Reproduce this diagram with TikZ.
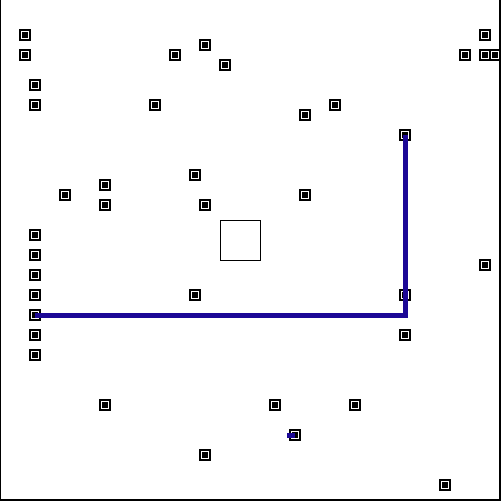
\documentclass[tikz,border=0pt]{standalone}
\definecolor{pathblue}{RGB}{28,8,150}
\begin{document}
\begin{tikzpicture}[x=1pt,y=-1pt,
  pin/.style={draw=black,line width=1.2pt,fill=white,minimum size=10pt,inner sep=0pt,outer sep=0pt,
    path picture={\fill[black] ([xshift=-2.6pt,yshift=-2.6pt]path picture bounding box.center) rectangle ([xshift=2.6pt,yshift=2.6pt]path picture bounding box.center);}},
  wire/.style={draw=pathblue,line width=5pt}]
\useasboundingbox (0,0) rectangle (501,501);
\draw[line width=1.5pt] (0.5,0) -- (0.5,500.2) -- (500.2,500.2) -- (500.2,0);
\node[draw,line width=1pt,minimum size=40pt,inner sep=0pt] (core) at (240,240) {};
\foreach \n/\x/\y in {a/25/35,b/25/55,c/205/45,d/175/55,e/225/65,f/485/35,g/465/55,h/485/55,i/495/55,
  j/35/85,k/35/105,l/155/105,m/335/105,n/305/115,o/405/135,p/195/175,q/105/185,r/65/195,s/105/205,
  t/205/205,u/305/195,v/35/235,w/35/255,x/35/275,y/35/295,z/195/295,aa/405/295,ab/485/265,
  ac/35/315,ad/35/335,ae/405/335,af/35/355,ag/105/405,ah/275/405,ai/355/405,aj/295/435,ak/205/455,al/445/485}
  \node[pin] (\n) at (\x,\y) {};
\draw[wire] (ac.center) -| (o.center);
\coordinate (stub) at (287,435);
\draw[wire] (stub) -- (aj.center);
\end{tikzpicture}
\end{document}
